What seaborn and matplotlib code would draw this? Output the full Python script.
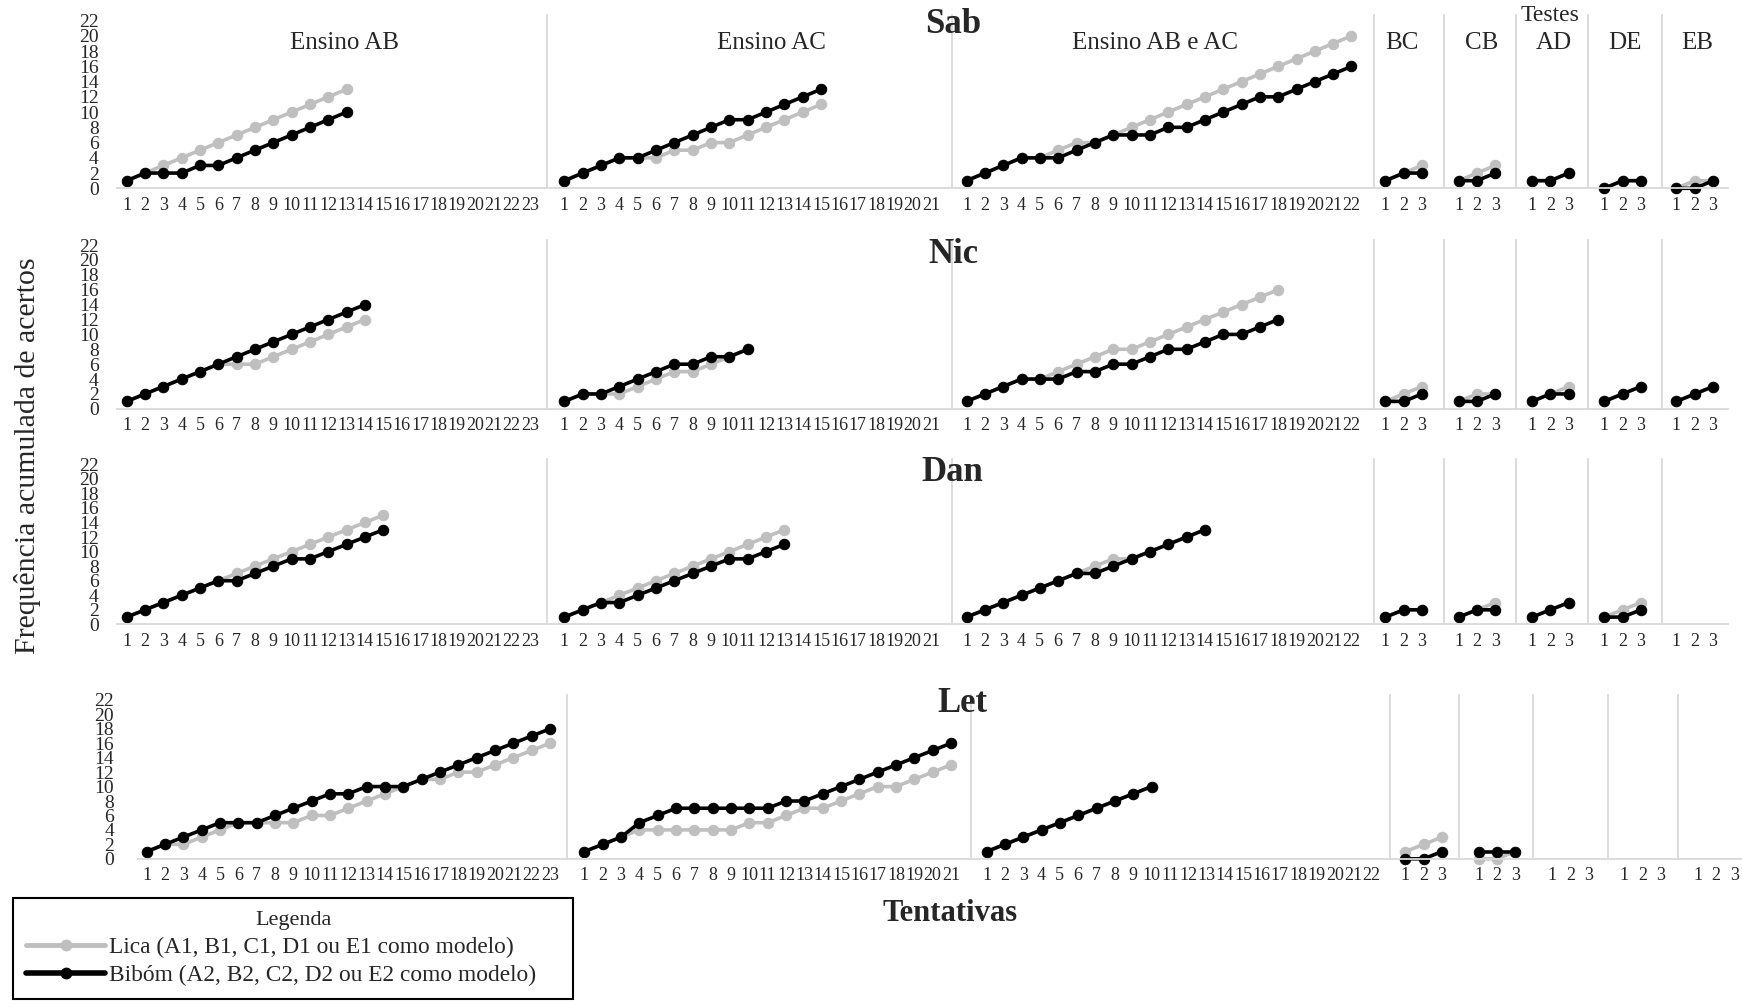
import matplotlib
matplotlib.use("Agg")
import matplotlib.pyplot as plt
import seaborn as sns
import pandas as pd
from matplotlib.lines import Line2D

sns.set_style("white")
plt.rcParams["font.family"] = ["Liberation Serif", "DejaVu Serif"]

# ---------------- data ----------------
participants = ["Sab", "Nic", "Dan", "Let"]
phases = ["Ensino AB", "Ensino AC", "Ensino AB e AC", "BC", "CB", "AD", "DE", "EB"]
n_categories = [23, 21, 22, 3, 3, 3, 3, 3]
series_names = ["Lica (A1, B1, C1, D1 ou E1 como modelo)",
                "Bibóm (A2, B2, C2, D2 ou E2 como modelo)"]

# Sab
sab_lica_ab = [1, 2, 3, 4, 5, 6, 7, 8, 9, 10, 11, 12, 13]
sab_bibom_ab = [1, 2, 2, 2, 3, 3, 4, 5, 6, 7, 8, 9, 10]
sab_lica_ac = [1, 2, 3, 4, 4, 4, 5, 5, 6, 6, 7, 8, 9, 10, 11]
sab_bibom_ac = [1, 2, 3, 4, 4, 5, 6, 7, 8, 9, 9, 10, 11, 12, 13]
sab_lica_abac = [1, 2, 3, 4, 4, 5, 6, 6, 7, 8, 9, 10, 11, 12, 13, 14, 15, 16, 17, 18, 19, 20]
sab_bibom_abac = [1, 2, 3, 4, 4, 4, 5, 6, 7, 7, 7, 8, 8, 9, 10, 11, 12, 12, 13, 14, 15, 16]
sab_lica_tests = [[1, 2, 3], [1, 2, 3], [1, 1, 2], [0, 1, 1], [0, 1, 1]]
sab_bibom_tests = [[1, 2, 2], [1, 1, 2], [1, 1, 2], [0, 1, 1], [0, 0, 1]]

# Nic
nic_lica_ab = [1, 2, 3, 4, 5, 6, 6, 6, 7, 8, 9, 10, 11, 12]
nic_bibom_ab = [1, 2, 3, 4, 5, 6, 7, 8, 9, 10, 11, 12, 13, 14]
nic_lica_ac = [1, 2, 2, 2, 3, 4, 5, 5, 6, 7, 8]
nic_bibom_ac = [1, 2, 2, 3, 4, 5, 6, 6, 7, 7, 8]
nic_lica_abac = [1, 2, 3, 4, 4, 5, 6, 7, 8, 8, 9, 10, 11, 12, 13, 14, 15, 16]
nic_bibom_abac = [1, 2, 3, 4, 4, 4, 5, 5, 6, 6, 7, 8, 8, 9, 10, 10, 11, 12]
nic_lica_tests = [[1, 2, 3], [1, 2, 2], [1, 2, 3], [1, 2, 3], [1, 2, 3]]
nic_bibom_tests = [[1, 1, 2], [1, 1, 2], [1, 2, 2], [1, 2, 3], [1, 2, 3]]

# Dan
dan_lica_ab = [1, 2, 3, 4, 5, 6, 7, 8, 9, 10, 11, 12, 13, 14, 15]
dan_bibom_ab = [1, 2, 3, 4, 5, 6, 6, 7, 8, 9, 9, 10, 11, 12, 13]
dan_lica_ac = [1, 2, 3, 4, 5, 6, 7, 8, 9, 10, 11, 12, 13]
dan_bibom_ac = [1, 2, 3, 3, 4, 5, 6, 7, 8, 9, 9, 10, 11]
dan_lica_abac = [1, 2, 3, 4, 5, 6, 7, 8, 9, 9, 10, 11, 12, 13]
dan_bibom_abac = [1, 2, 3, 4, 5, 6, 7, 7, 8, 9, 10, 11, 12, 13]
dan_lica_tests = [[1, 2, 2], [1, 2, 3], [1, 2, 3], [1, 2, 3], []]
dan_bibom_tests = [[1, 2, 2], [1, 2, 2], [1, 2, 3], [1, 1, 2], []]

# Let
let_lica_ab = [1, 2, 2, 3, 4, 5, 5, 5, 5, 6, 6, 7, 8, 9, 10, 11, 11, 12, 12, 13, 14, 15, 16]
let_bibom_ab = [1, 2, 3, 4, 5, 5, 5, 6, 7, 8, 9, 9, 10, 10, 10, 11, 12, 13, 14, 15, 16, 17, 18]
let_lica_ac = [1, 2, 3, 4, 4, 4, 4, 4, 4, 5, 5, 6, 7, 7, 8, 9, 10, 10, 11, 12, 13]
let_bibom_ac = [1, 2, 3, 5, 6, 7, 7, 7, 7, 7, 7, 8, 8, 9, 10, 11, 12, 13, 14, 15, 16]
let_lica_abac = [1, 2, 3, 4, 5, 6, 7, 8, 9, 10]
let_bibom_abac = [1, 2, 3, 4, 5, 6, 7, 8, 9, 10]
let_lica_tests = [[1, 2, 3], [0, 0, 1], [], [], []]
let_bibom_tests = [[0, 0, 1], [1, 1, 1], [], [], []]

lica_all = {
    "Sab": [sab_lica_ab, sab_lica_ac, sab_lica_abac] + sab_lica_tests,
    "Nic": [nic_lica_ab, nic_lica_ac, nic_lica_abac] + nic_lica_tests,
    "Dan": [dan_lica_ab, dan_lica_ac, dan_lica_abac] + dan_lica_tests,
    "Let": [let_lica_ab, let_lica_ac, let_lica_abac] + let_lica_tests,
}
bibom_all = {
    "Sab": [sab_bibom_ab, sab_bibom_ac, sab_bibom_abac] + sab_bibom_tests,
    "Nic": [nic_bibom_ab, nic_bibom_ac, nic_bibom_abac] + nic_bibom_tests,
    "Dan": [dan_bibom_ab, dan_bibom_ac, dan_bibom_abac] + dan_bibom_tests,
    "Let": [let_bibom_ab, let_bibom_ac, let_bibom_abac] + let_bibom_tests,
}

# ---------------- layout (reference pixel grid 1568 x 906) ----------------
W, H = 1568.0, 906.4


def fx(x):
    return x / W


def fy(y):
    return 1 - y / H


# per row: baseline y, px per unit
row_geom = [(169.5, 6.86), (368.0, 6.70), (562.0, 6.55), (773.0, 6.50)]
# per panel: (left, right, position of category 1)
layout_top = [(105, 492, 114), (492, 857, 508), (857, 1237, 870),
              (1237, 1300, 1247), (1300, 1365, 1313), (1365, 1429, 1379),
              (1429, 1496, 1444), (1496, 1555, 1509)]
layout_bottom = [(124, 510, 132), (510, 874, 526), (874, 1251, 888),
                 (1251, 1313, 1265), (1313, 1380, 1331), (1380, 1447, 1397),
                 (1447, 1510, 1462), (1510, 1568, 1528)]
bin_w = 16.5
ytop = 22.7

GRAY = "#bfbfbf"
SEP = "#d9d9d9"
line_kw = dict(marker="o", markersize=7.5, linewidth=2.6, clip_on=False)

fig = plt.figure(figsize=(17.42, 10.07), dpi=100)

for r, p in enumerate(participants):
    base, unit = row_geom[r]
    layout = layout_bottom if r == 3 else layout_top
    for j, ph in enumerate(phases):
        left, right, x1 = layout[j]
        ax = fig.add_axes([fx(left), fy(base), fx(right - left), ytop * unit / H])
        ax.set_facecolor("none")
        n = n_categories[j]
        for vals, color, name in ((lica_all[p][j], GRAY, series_names[0]),
                                  (bibom_all[p][j], "black", series_names[1])):
            if len(vals) == 0:
                continue
            df = pd.DataFrame({"Tentativa": list(range(1, len(vals) + 1)), "Acertos": vals})
            sns.lineplot(data=df, x="Tentativa", y="Acertos", ax=ax, color=color,
                         markeredgecolor=color, errorbar=None, sort=False, **line_kw)
        ax.set_xlim(1 - (x1 - left) / bin_w, 1 + (right - x1) / bin_w)
        ax.set_ylim(0, ytop)
        ax.set_xticks(range(1, n + 1))
        ax.set_xticklabels([str(k) for k in range(1, n + 1)], fontsize=13)
        ax.tick_params(axis="x", length=0, pad=6)
        ax.set_xlabel("")
        ax.set_ylabel("")
        if j == 0:
            ax.set_yticks(range(0, 23, 2))
            ax.set_yticklabels([str(k) for k in range(0, 23, 2)], fontsize=14)
            ax.tick_params(axis="y", length=0, pad=17 if r == 3 else 13)
        else:
            ax.set_yticks([])
        for s in ("top", "right"):
            ax.spines[s].set_visible(False)
        ax.spines["bottom"].set_color(SEP)
        ax.spines["bottom"].set_linewidth(1.3)
        if j == 0:
            ax.spines["left"].set_visible(False)
        else:
            ax.spines["left"].set_color(SEP)
            ax.spines["left"].set_linewidth(1.3)

# ---------------- texts ----------------
title_pos = [(858, 22), (858, 229), (857, 425), (866, 633)]
for p, (x, y) in zip(participants, title_pos):
    fig.text(fx(x), fy(y), p, ha="center", va="center", fontsize=25, weight="bold")

phase_title_pos = [310, 694, 1040, 1262, 1334, 1399, 1463, 1528]
for ph, x in zip(phases, phase_title_pos):
    fig.text(fx(x), fy(39), ph, ha="center", va="center", fontsize=18)
fig.text(fx(1395), fy(14), "Testes", ha="center", va="center", fontsize=17)

fig.text(fx(25), fy(410), "Frequência acumulada de acertos", rotation=90,
         ha="center", va="center", fontsize=21.5)
fig.text(fx(855), fy(822), "Tentativas", ha="center", va="center",
         fontsize=22, weight="bold")

# ---------------- legend ----------------
handles = [Line2D([], [], color=GRAY, markeredgecolor=GRAY, marker="o",
                  markersize=7.5, linewidth=3.5),
           Line2D([], [], color="black", markeredgecolor="black", marker="o",
                  markersize=7.5, linewidth=4.0)]
leg = fig.legend(handles, series_names, title="Legenda", loc="upper left",
                 bbox_to_anchor=(fx(12), fy(906), fx(504), fy(808) - fy(906)),
                 mode="expand", borderaxespad=0, frameon=True, fancybox=False,
                 framealpha=1, edgecolor="black", fontsize=16.8,
                 title_fontsize=16, handlelength=3.4, handletextpad=0.15,
                 labelspacing=0.3, borderpad=0.55)
leg.get_frame().set_linewidth(1.5)

fig.savefig("out.png", dpi=100)
